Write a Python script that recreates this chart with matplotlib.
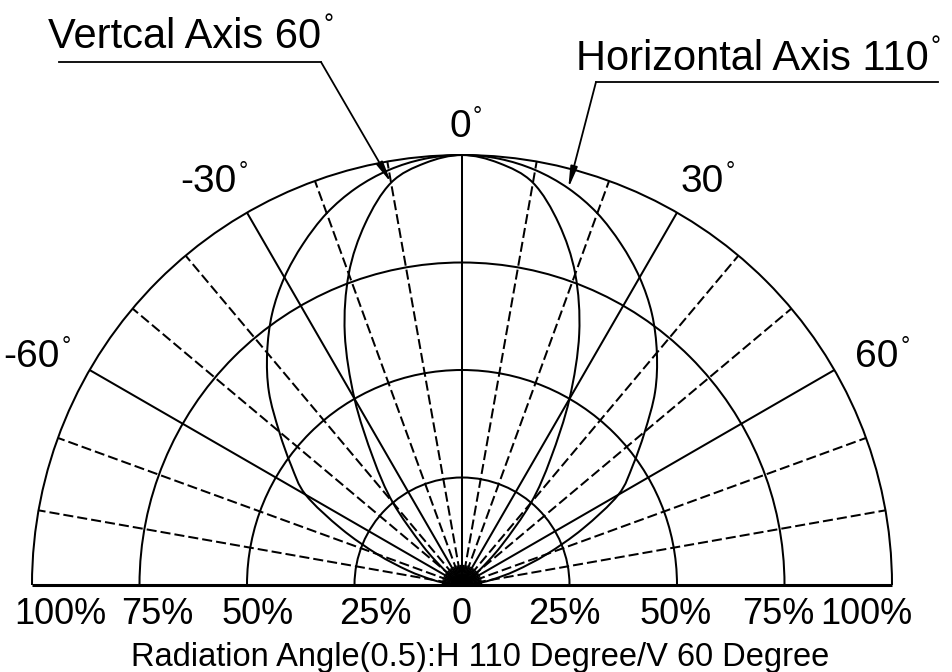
import numpy as np
import matplotlib
matplotlib.use("Agg")
import matplotlib.pyplot as plt
from matplotlib.patches import Arc, PathPatch
from matplotlib.path import Path

plt.rcParams['font.family'] = ['Liberation Sans', 'DejaVu Sans']

# relative intensity, read every 5 degrees from 0 to 90 (both sides the same)
angles = [0, 5, 10, 15, 20, 25, 30, 35, 40, 45, 50, 55, 60, 65, 70, 75, 80, 85, 90]
vertical_60 = [1.0, 0.985, 0.95, 0.87, 0.77, 0.645, 0.5, 0.36, 0.25, 0.13,
               0.05, 0.01, 0, 0, 0, 0, 0, 0, 0]
horizontal_110 = [1.0, 0.995, 0.98, 0.955, 0.92, 0.875, 0.826, 0.77, 0.705, 0.635,
                  0.555, 0.485, 0.42, 0.31, 0.21, 0.13, 0.07, 0.03, 0.0]

rings = [0.25, 0.5, 0.75, 1.0]
ring_labels = ['100%', '75%', '50%', '25%', '0', '25%', '50%', '75%', '100%']
spokes = list(range(-80, 90, 10))
angle_labels = ['-60', '-30', '0', '30', '60']
title = 'Radiation Angle(0.5):H 110 Degree/V 60 Degree'

W, H = 952, 672
cx, cy, R = 462, 585, 430   # centre and radius in pixels

fig = plt.figure(figsize=(W / 100, H / 100), dpi=100)
ax = fig.add_axes([0, 0, 1, 1])
ax.set_xlim(-cx / R, (W - cx) / R)
ax.set_ylim((cy - H) / R, cy / R)
ax.axis('off')


def px(x, y):
    return (x - cx) / R, (cy - y) / R


def polar_xy(theta_deg, r):
    t = np.radians(theta_deg)
    return np.asarray(r) * np.sin(t), np.asarray(r) * np.cos(t)


def smooth_path(x, y):
    # joins the read points with cubic segments (Catmull-Rom tangents)
    pts = np.column_stack([x, y])
    n = len(pts)
    verts, codes = [pts[0]], [Path.MOVETO]
    for i in range(n - 1):
        p0 = pts[max(i - 1, 0)]
        p1, p2 = pts[i], pts[i + 1]
        p3 = pts[min(i + 2, n - 1)]
        verts += [p1 + (p2 - p0) / 6, p2 - (p3 - p1) / 6, p2]
        codes += [Path.CURVE4] * 3
    return Path(verts, codes)


lw = 1.45

# rings
for r in rings:
    ax.add_patch(Arc((0, 0), 2 * r, 2 * r, theta1=0, theta2=180, lw=lw, color='k'))

# spokes: solid every 30 degrees, dashed otherwise
for a in spokes:
    x, y = polar_xy(a, [0, 1])
    if a % 30 == 0:
        ax.plot(x, y, color='k', lw=lw, solid_capstyle='butt')
    else:
        ax.plot(x, y, color='k', lw=lw, linestyle=(0, (5, 2)))

# dense fan at the centre
for a in range(-85, 90, 5):
    x, y = polar_xy(a, [0, 0.045])
    ax.plot(x, y, color='k', lw=1.2)

# baseline
ax.plot([-1, 1], [0, 0], color='k', lw=2.2, solid_capstyle='butt')

# patterns
for vals in (vertical_60, horizontal_110):
    th = [-a for a in angles[::-1]] + angles[1:]
    rr = vals[::-1] + vals[1:]
    x, y = polar_xy(th, rr)
    ax.add_patch(PathPatch(smooth_path(x, y), fill=False, lw=lw, ec='k'))


def deg_label(x, y, s, size, ha='center'):
    t = ax.text(x, y, s, fontsize=size, ha=ha, va='baseline')
    ax.annotate('°', xy=(1, 1), xycoords=t, xytext=(1.5, 3),
                textcoords='offset points', fontsize=size * 0.6,
                ha='left', va='top')


# angle labels
label_pos = [(31, 367), (208, 192), (460, 137), (702, 192), (877, 367)]
for s, (x, y) in zip(angle_labels, label_pos):
    deg_label(*px(x, y), s, 28)

# ring labels along the bottom
ring_x = [60, 157, 258, 375, 462, 564, 676, 778, 866]
for s, x in zip(ring_labels, ring_x):
    ax.text(*px(x, 624), s, fontsize=26, ha='center', va='baseline')

ax.text(*px(480, 666), title, fontsize=23.5, ha='center', va='baseline')

# call-outs
deg_label(*px(48, 48), 'Vertcal Axis 60', 30, ha='left')
deg_label(*px(576, 70), 'Horizontal Axis 110', 30, ha='left')

arrow = dict(arrowstyle='-|>,head_length=0.9,head_width=0.15', lw=1.3,
             color='k', shrinkA=0, shrinkB=0, mutation_scale=14)

x0, y0 = px(59, 62)
x1, y1 = px(321, 62)
ax.plot([x0, x1], [y0, y1], color='k', lw=1.3)
tip = polar_xy(-angles[2], vertical_60[2])
ax.annotate('', xy=tip, xytext=(x1, y1), arrowprops=arrow)

x0, y0 = px(596, 82)
x1, y1 = px(938, 82)
ax.plot([x0, x1], [y0, y1], color='k', lw=1.3)
tip = polar_xy(angles[3], horizontal_110[3])
ax.annotate('', xy=tip, xytext=(x0, y0), arrowprops=arrow)

fig.savefig('out.png', dpi=100)
